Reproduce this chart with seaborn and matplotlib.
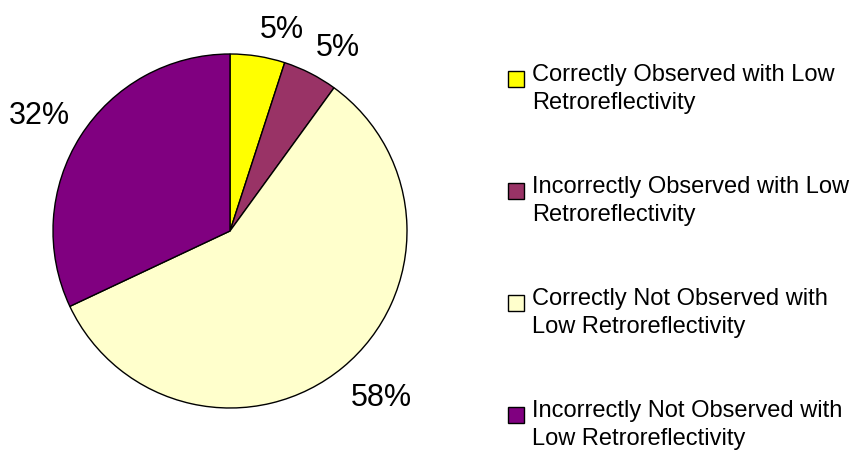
import matplotlib
matplotlib.use("Agg")
import matplotlib.pyplot as plt
from matplotlib.patches import Rectangle
import seaborn as sns

# Data
categories = [
    "Correctly Observed with Low\nRetroreflectivity",
    "Incorrectly Observed with Low\nRetroreflectivity",
    "Correctly Not Observed with\nLow Retroreflectivity",
    "Incorrectly Not Observed with\nLow Retroreflectivity",
]
shares = [5, 5, 58, 32]
colors = ["#FFFF00", "#993366", "#FFFFCC", "#800080"]

sns.set_theme(style="white")
plt.rcParams['font.family'] = ['Liberation Sans', 'DejaVu Sans']

W, H = 854, 452
fig = plt.figure(figsize=(W / 100, H / 100), dpi=100)
fig.patch.set_facecolor("white")

# Pie axes: centre (230, 232) px, radius 177 px
R = 177
ax = fig.add_axes([(230 - R) / W, (H - 232 - R) / H, 2 * R / W, 2 * R / H])
wedges, texts = ax.pie(
    shares,
    labels=[f"{s}%" for s in shares],
    colors=sns.color_palette(colors),
    startangle=90,
    counterclock=False,
    radius=1,
    labeldistance=1.07,
    wedgeprops=dict(edgecolor="black", linewidth=1.0),
    textprops=dict(fontsize=22, color="black"),
)
# place the label corner next to the wedge, like the original
for t in texts:
    x, y = t.get_position()
    if y > 0:
        t.set_va("bottom")
    else:
        t.set_va("top")
        t.set_position((x, y - 0.03))
ax.set_xlim(-1, 1)
ax.set_ylim(-1, 1)
ax.set_aspect("equal")
ax.axis("off")

# Legend (square aligned with the first line of each entry)
for i, (lab, c) in enumerate(zip(categories, colors)):
    top = 63 + 112 * i
    fig.add_artist(Rectangle(((508) / W, (H - top - 25) / H), 16 / W, 16 / H,
                             transform=fig.transFigure, facecolor=c,
                             edgecolor="black", linewidth=1.0))
    fig.text(532 / W, (H - top - 1) / H, lab, fontsize=17, color="black",
             ha="left", va="top", linespacing=1.38)

plt.savefig("out.png", dpi=100)
